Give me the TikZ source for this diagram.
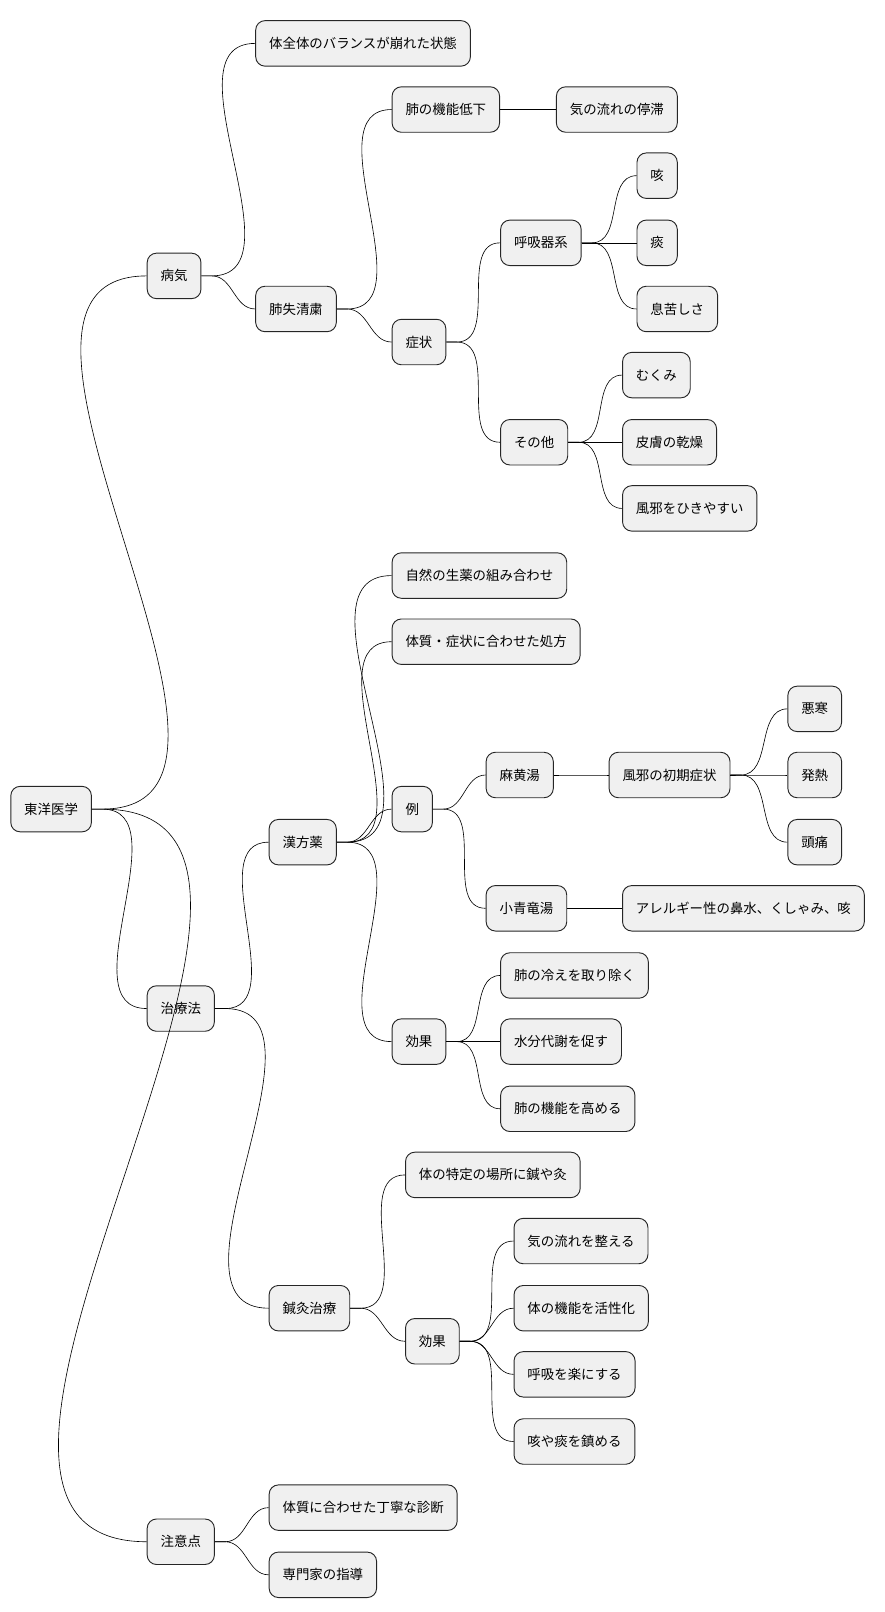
\documentclass[tikz,border=0pt]{standalone}
\usepackage{fontspec}
\setmainfont{Noto Sans CJK JP}
\begin{document}
\begin{tikzpicture}[x=1pt,y=-1pt,
  n/.style={draw=black!85,line width=0.9pt,fill=black!6,rounded corners=9pt,anchor=west,minimum height=44pt,inner xsep=13pt,font=\fontsize{13}{15}\selectfont},
  e/.style={draw=black,line width=0.6pt}]
\useasboundingbox (0,0) rectangle (856,1560);
\node[n] (root) at (10,783) {東洋医学};
\node[n] (byo) at (142,267) {病気};
\node[n] (chi) at (142,976) {治療法};
\node[n] (chu) at (142,1492) {注意点};
\node[n] (a1) at (247,42) {体全体のバランスが崩れた状態};
\node[n] (a2) at (247,299) {肺失清粛};
\node[n] (b1) at (379,106) {肺の機能低下};
\node[n] (b2) at (538,106) {気の流れの停滞};
\node[n] (s) at (379,331) {症状};
\node[n] (k) at (484,235) {呼吸器系};
\node[n] (k1) at (616,170) {咳};
\node[n] (k2) at (616,235) {痰};
\node[n] (k3) at (616,299) {息苦しさ};
\node[n] (o) at (484,428) {その他};
\node[n] (o1) at (602,363) {むくみ};
\node[n] (o2) at (602,428) {皮膚の乾燥};
\node[n] (o3) at (602,492) {風邪をひきやすい};
\node[n] (kp) at (260,815) {漢方薬};
\node[n] (kp1) at (379,557) {自然の生薬の組み合わせ};
\node[n] (kp2) at (379,621) {体質・症状に合わせた処方};
\node[n] (r) at (379,783) {例};
\node[n] (m) at (470,750) {麻黄湯};
\node[n] (m1) at (589,750) {風邪の初期症状};
\node[n] (m11) at (762,686) {悪寒};
\node[n] (m12) at (762,750) {発熱};
\node[n] (m13) at (762,815) {頭痛};
\node[n] (sh) at (470,879) {小青竜湯};
\node[n] (sh1) at (602,879) {アレルギー性の鼻水、くしゃみ、咳};
\node[n] (ef) at (379,1008) {効果};
\node[n] (ef1) at (484,944) {肺の冷えを取り除く};
\node[n] (ef2) at (484,1008) {水分代謝を促す};
\node[n] (ef3) at (484,1073) {肺の機能を高める};
\node[n] (sk) at (260,1266) {鍼灸治療};
\node[n] (sk1) at (392,1137) {体の特定の場所に鍼や灸};
\node[n] (se) at (392,1298) {効果};
\node[n] (se1) at (497,1201) {気の流れを整える};
\node[n] (se2) at (497,1266) {体の機能を活性化};
\node[n] (se3) at (497,1330) {呼吸を楽にする};
\node[n] (se4) at (497,1395) {咳や痰を鎮める};
\node[n] (c1) at (260,1459) {体質に合わせた丁寧な診断};
\node[n] (c2) at (260,1524) {専門家の指導};
\foreach \p/\c in {root/byo,root/chi,root/chu,byo/a1,byo/a2,a2/b1,b1/b2,a2/s,s/k,k/k1,k/k2,k/k3,s/o,o/o1,o/o2,o/o3,chi/kp,kp/kp1,kp/kp2,kp/r,r/m,m/m1,m1/m11,m1/m12,m1/m13,r/sh,sh/sh1,kp/ef,ef/ef1,ef/ef2,ef/ef3,chi/sk,sk/sk1,sk/se,se/se1,se/se2,se/se3,se/se4,chu/c1,chu/c2}
  \draw[e] (\p.east) -- ++(10,0) to[out=0,in=180] (\c.west);
\end{tikzpicture}
\end{document}
